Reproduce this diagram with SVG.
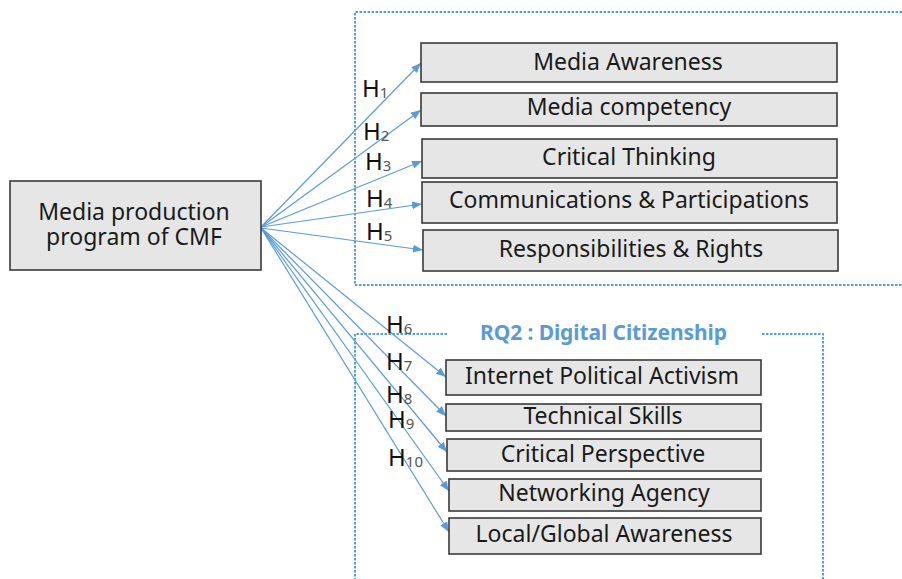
<svg xmlns="http://www.w3.org/2000/svg" width="902" height="579" viewBox="0 0 902 579">
  <defs>
    <marker id="arrow" markerUnits="userSpaceOnUse" markerWidth="11" markerHeight="9" refX="10" refY="4" orient="auto">
      <path d="M0,0 L10,4 L0,8 z" fill="#5b9bd5"/>
    </marker>
    <style>
      .box { fill: #e6e6e6; stroke: #3a3a3a; stroke-width: 1.6; }
      .lbl { font-family: "Noto Sans", "Open Sans", sans-serif; font-size: 23px; fill: #1a1a1a; text-anchor: middle; }
      .conn { fill: none; stroke: #5b9bd5; stroke-width: 1.2; marker-end: url(#arrow); }
      .frame { fill: none; stroke: #5b9bd5; stroke-width: 2; stroke-dasharray: 2.5 1.5; }
      .hyp { font-family: "Noto Sans", "Open Sans", sans-serif; font-size: 24px; fill: #111; }
      .sub { font-size: 15px; fill: #555; }
      .title { font-family: "Noto Sans", "Open Sans", sans-serif; font-size: 21px; font-weight: bold; fill: #5b9bd5; }
    </style>
  </defs>

  <rect width="902" height="579" fill="#ffffff"/>

  <!-- dotted group frames -->
  <g id="frames">
    <path class="frame" d="M910,12 H355 V285 H910"/>
    <path class="frame" d="M447,334 H355 V579"/>
    <path class="frame" d="M762,334 H823 V579"/>
    <text class="title" x="480" y="340" textLength="247">RQ2 : Digital Citizenship</text>
  </g>

  <!-- connectors -->
  <g id="connectors">
    <line class="conn" x1="261" y1="227" x2="421" y2="63"/>
    <line class="conn" x1="261" y1="227" x2="421" y2="110"/>
    <line class="conn" x1="261" y1="227" x2="422" y2="161"/>
    <line class="conn" x1="261" y1="227" x2="422" y2="204"/>
    <line class="conn" x1="261" y1="228" x2="423" y2="250"/>
    <line class="conn" x1="261" y1="228" x2="446" y2="377"/>
    <line class="conn" x1="261" y1="228" x2="446" y2="416"/>
    <line class="conn" x1="261" y1="228" x2="447" y2="452"/>
    <line class="conn" x1="261" y1="228" x2="449" y2="491"/>
    <line class="conn" x1="261" y1="228" x2="449" y2="532"/>
  </g>

  <!-- hypothesis labels -->
  <g id="hypotheses">
    <text class="hyp" x="362" y="97">H<tspan class="sub" dy="1">1</tspan></text>
    <text class="hyp" x="363" y="140">H<tspan class="sub" dy="1">2</tspan></text>
    <text class="hyp" x="365" y="170">H<tspan class="sub" dy="1">3</tspan></text>
    <text class="hyp" x="366" y="207">H<tspan class="sub" dy="1">4</tspan></text>
    <text class="hyp" x="366" y="240">H<tspan class="sub" dy="1">5</tspan></text>
    <text class="hyp" x="386" y="333">H<tspan class="sub" dy="1">6</tspan></text>
    <text class="hyp" x="386" y="370">H<tspan class="sub" dy="1">7</tspan></text>
    <text class="hyp" x="386" y="403">H<tspan class="sub" dy="1">8</tspan></text>
    <text class="hyp" x="388" y="428">H<tspan class="sub" dy="1">9</tspan></text>
    <text class="hyp" x="388" y="466">H<tspan class="sub" dy="1">10</tspan></text>
  </g>

  <!-- source node -->
  <g id="node-program">
    <rect class="box" x="10" y="181" width="251" height="89"/>
    <text class="lbl" x="134" y="220">Media production</text>
    <text class="lbl" x="134" y="245">program of CMF</text>
  </g>

  <!-- media literacy outcomes -->
  <g id="node-awareness">
    <rect class="box" x="421" y="43" width="416" height="39"/>
    <text class="lbl" x="628" y="70">Media  Awareness</text>
  </g>
  <g id="node-competency">
    <rect class="box" x="421" y="93" width="416" height="33"/>
    <text class="lbl" x="629" y="115">Media competency</text>
  </g>
  <g id="node-critical-thinking">
    <rect class="box" x="422" y="139" width="415" height="39"/>
    <text class="lbl" x="629" y="165">Critical Thinking</text>
  </g>
  <g id="node-communications">
    <rect class="box" x="422" y="182" width="415" height="41"/>
    <text class="lbl" x="629" y="208">Communications &amp; Participations</text>
  </g>
  <g id="node-responsibilities">
    <rect class="box" x="423" y="230" width="415" height="41"/>
    <text class="lbl" x="631" y="257">Responsibilities &amp; Rights</text>
  </g>

  <!-- digital citizenship outcomes -->
  <g id="node-activism">
    <rect class="box" x="446" y="360" width="315" height="35"/>
    <text class="lbl" x="602" y="384">Internet Political Activism</text>
  </g>
  <g id="node-technical">
    <rect class="box" x="446" y="404" width="315" height="27"/>
    <text class="lbl" x="603" y="424">Technical Skills</text>
  </g>
  <g id="node-perspective">
    <rect class="box" x="447" y="439" width="314" height="32"/>
    <text class="lbl" x="603" y="462">Critical Perspective</text>
  </g>
  <g id="node-networking">
    <rect class="box" x="449" y="479" width="312" height="32"/>
    <text class="lbl" x="604" y="501">Networking Agency</text>
  </g>
  <g id="node-local-global">
    <rect class="box" x="449" y="518" width="312" height="36"/>
    <text class="lbl" x="604" y="542">Local/Global Awareness</text>
  </g>
</svg>
